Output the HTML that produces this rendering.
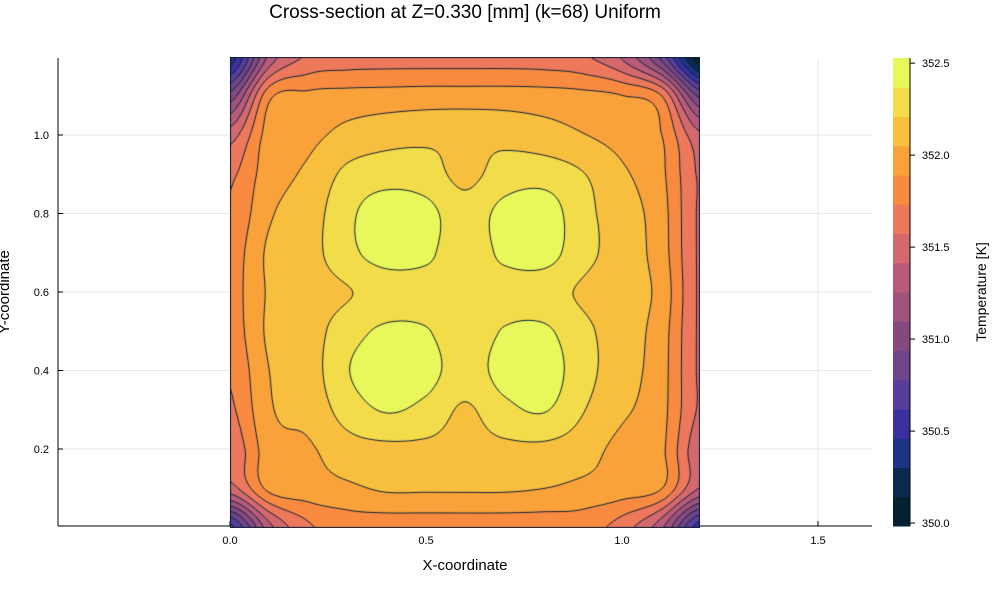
<!DOCTYPE html>
<html><head><meta charset="utf-8"><style>
html,body{margin:0;padding:0;background:#fff;}
#wrap{position:relative;width:1000px;height:600px;font-family:"Liberation Sans",sans-serif;}
</style></head><body>
<div id="wrap">
<svg id="svg" width="1000" height="600" style="position:absolute;left:0;top:0"></svg>
<canvas id="cv" width="470" height="471" style="position:absolute;left:230px;top:56.5px"></canvas>
</div>
<script>
// Data: temperature grid (T-350 K), rows y=1.2 down to 0.0, columns x=0..1.2 step 0.1
const gridX=[0,0.1,0.2,0.3,0.4,0.5,0.6,0.7,0.8,0.9,1.0,1.1,1.2];
const gridY=[1.2,1.1,1.0,0.9,0.8,0.7,0.6,0.5,0.4,0.3,0.2,0.1,0.0];
const tempRows=[
[0.35,1.30,1.60,1.65,1.66,1.66,1.66,1.66,1.65,1.60,1.40,0.90,0.00],
[1.00,1.85,1.93,1.95,1.96,1.97,1.97,1.97,1.96,1.94,1.90,1.75,0.90],
[1.50,1.96,2.01,2.10,2.15,2.17,2.17,2.16,2.12,2.06,1.99,1.90,1.45],
[1.70,1.98,2.08,2.25,2.30,2.28,2.17,2.28,2.30,2.22,2.08,1.93,1.55],
[1.75,2.03,2.13,2.33,2.46,2.42,2.28,2.42,2.46,2.26,2.13,1.96,1.55],
[1.80,2.08,2.15,2.32,2.44,2.40,2.28,2.40,2.44,2.26,2.14,1.97,1.55],
[1.82,2.07,2.13,2.20,2.27,2.30,2.30,2.30,2.27,2.19,2.12,2.00,1.55],
[1.80,2.08,2.14,2.30,2.40,2.38,2.28,2.38,2.40,2.25,2.13,1.97,1.55],
[1.75,2.05,2.13,2.36,2.46,2.43,2.29,2.43,2.46,2.27,2.12,1.96,1.55],
[1.70,2.03,2.10,2.28,2.38,2.32,2.19,2.32,2.38,2.22,2.08,1.95,1.55],
[1.60,1.98,2.03,2.14,2.17,2.17,2.15,2.17,2.17,2.12,2.00,1.93,1.45],
[1.50,1.93,1.98,2.02,2.07,2.07,2.07,2.07,2.05,2.01,1.97,1.90,1.40],
[0.55,1.35,1.70,1.80,1.80,1.80,1.80,1.80,1.80,1.80,1.65,1.30,0.50]];
const levelBase=349.984, levelStep=0.159, nLevels=16;
const bandColors=["#05202e","#0b2a50","#1b3484","#3b30a0","#583d9a","#6e4589","#85497f","#9e537b","#b95b78","#d4696d","#ee785b","#f98b41","#faa23a","#f8bf3f","#f3dc4a","#e8f75a"];
const xTicks=[0,0.5,1.0,1.5], xTickLabels=["0.0","0.5","1.0","1.5"];
const yTicks=[0.2,0.4,0.6,0.8,1.0], yTickLabels=["0.2","0.4","0.6","0.8","1.0"];
const cbTicks=[350.0,350.5,351.0,351.5,352.0,352.5], cbTickLabels=["350.0","350.5","351.0","351.5","352.0","352.5"];

const X0=230, XS=392, Y0=527.5, YS=392.5;
const sx=x=>X0+x*XS, sy=y=>Y0-y*YS;
const svg=document.getElementById('svg'), NS="http://www.w3.org/2000/svg";
function mk(tag,attrs,name,parent){const e=document.createElementNS(NS,tag);for(const k in attrs)e.setAttribute(k,attrs[k]);


(parent||svg).appendChild(e);return e;}
xTicks.forEach(t=>{mk('line',{x1:sx(t),x2:sx(t),y1:58,y2:526,stroke:'#e8e8e8','stroke-width':1},'x-grid-line');});
yTicks.forEach(t=>{mk('line',{x1:58,x2:872,y1:sy(t),y2:sy(t),stroke:'#e8e8e8','stroke-width':1},'y-grid-line');});
mk('line',{x1:58,x2:58,y1:58,y2:526,stroke:'#000','stroke-width':1},'y-axis-line');
mk('line',{x1:58,x2:872,y1:526,y2:526,stroke:'#000','stroke-width':1},'x-axis-line');
xTicks.forEach((t,i)=>{mk('line',{x1:sx(t),x2:sx(t),y1:526,y2:521,stroke:'#000'},'x-tick');
 const e=mk('text',{x:sx(t),y:544,'font-size':11,'text-anchor':'middle',fill:'#000'},'x-tick-label');e.textContent=xTickLabels[i];});
yTicks.forEach((t,i)=>{mk('line',{x1:58,x2:63,y1:sy(t),y2:sy(t),stroke:'#000'},'y-tick');
 const e=mk('text',{x:49,y:sy(t)+4,'font-size':11,'text-anchor':'end',fill:'#000'},'y-tick-label');e.textContent=yTickLabels[i];});
let e=mk('text',{x:465,y:18,'font-size':19,'text-anchor':'middle',fill:'#000'},'chart-title');e.textContent="Cross-section at Z=0.330 [mm] (k=68) Uniform";
e=mk('text',{x:465,y:570,'font-size':15,'text-anchor':'middle',fill:'#000'},'x-axis-title');e.textContent="X-coordinate";
e=mk('text',{x:0,y:0,'font-size':15,'text-anchor':'middle',fill:'#000',transform:'translate(9,292) rotate(-90)'},'y-axis-title');e.textContent="Y-coordinate";
const CB_T=58, CB_B=526, vmin=levelBase, vmax=levelBase+levelStep*nLevels;
const cy=v=>CB_B-(v-vmin)/(vmax-vmin)*(CB_B-CB_T);
bandColors.forEach((c,i)=>{const a=levelBase+levelStep*i,b=a+levelStep;
 mk('rect',{x:893,y:cy(b),width:17,height:cy(a)-cy(b)+0.5,fill:c},'colorbar-band');});
mk('line',{x1:910,x2:910,y1:CB_T,y2:CB_B,stroke:'#000'},'colorbar-axis');
cbTicks.forEach((t,i)=>{mk('line',{x1:910,x2:915,y1:cy(t),y2:cy(t),stroke:'#000'},'colorbar-tick');
 const e=mk('text',{x:922,y:cy(t)+4,'font-size':11,fill:'#000'},'colorbar-tick-label');e.textContent=cbTickLabels[i];});
e=mk('text',{x:0,y:0,'font-size':14,'text-anchor':'middle',fill:'#000',transform:'translate(986,292) rotate(-90)'},'colorbar-title');e.textContent="Temperature [K]";

const NR=gridY.length, NC=gridX.length;
function g(r,c){r=Math.max(0,Math.min(NR-1,r));c=Math.max(0,Math.min(NC-1,c));return tempRows[r][c];}
function cr(p0,p1,p2,p3,t){return p1+0.5*t*(p2-p0+t*(2*p0-5*p1+4*p2-p3+t*(3*(p1-p2)+p3-p0)));}
function field(x,y){
 const fc=(x-gridX[0])/(gridX[1]-gridX[0]), fr=(gridY[0]-y)/(gridY[0]-gridY[1]);
 let c=Math.floor(fc), r=Math.floor(fr); c=Math.min(c,NC-2); r=Math.min(r,NR-2);
 const tx=fc-c, ty=fr-r, rows=[];
 for(let k=-1;k<=2;k++)rows.push(cr(g(r+k,c-1),g(r+k,c),g(r+k,c+1),g(r+k,c+2),tx));
 return 350+cr(rows[0],rows[1],rows[2],rows[3],ty);
}
function hex(c){return [parseInt(c.slice(1,3),16),parseInt(c.slice(3,5),16),parseInt(c.slice(5,7),16)];}
const rgb=bandColors.map(hex);
const cv=document.getElementById('cv'),ctx=cv.getContext('2d');
const W=cv.width,H=cv.height,img=ctx.createImageData(W,H);
const xmax=gridX[NC-1], ymax=gridY[0];
for(let j=0;j<H;j++)for(let i=0;i<W;i++){
 const v=field((i+0.5)/W*xmax, ymax-(j+0.5)/H*ymax);
 let b=Math.floor((v-levelBase)/levelStep); b=Math.max(0,Math.min(nLevels-1,b));
 const p=(j*W+i)*4;img.data[p]=rgb[b][0];img.data[p+1]=rgb[b][1];img.data[p+2]=rgb[b][2];img.data[p+3]=255;}
ctx.putImageData(img,0,0);
const S=2, GW=Math.ceil(W/S)+1, GH=Math.ceil(H/S)+1, F=[];
for(let j=0;j<GH;j++){F.push([]);for(let i=0;i<GW;i++)F[j].push(field(Math.min(W,i*S)/W*xmax, ymax-Math.min(H,j*S)/H*ymax));}
ctx.strokeStyle='#0e2036';ctx.lineWidth=1;ctx.beginPath();
for(let L=1;L<nLevels;L++){const lv=levelBase+levelStep*L;
 for(let j=0;j<GH-1;j++)for(let i=0;i<GW-1;i++){
  const a=F[j][i],b=F[j][i+1],c=F[j+1][i+1],d=F[j+1][i];
  const pts=[];const x0=i*S,y0=j*S;
  const ed=(v1,v2,p1,p2)=>{if((v1<lv)!==(v2<lv)){const t=(lv-v1)/(v2-v1);pts.push([p1[0]+(p2[0]-p1[0])*t,p1[1]+(p2[1]-p1[1])*t]);}};
  ed(a,b,[x0,y0],[x0+S,y0]);ed(b,c,[x0+S,y0],[x0+S,y0+S]);ed(c,d,[x0+S,y0+S],[x0,y0+S]);ed(d,a,[x0,y0+S],[x0,y0]);
  for(let k=0;k+1<pts.length;k+=2){ctx.moveTo(pts[k][0],pts[k][1]);ctx.lineTo(pts[k+1][0],pts[k+1][1]);}
 }}
ctx.stroke();
ctx.strokeStyle='#0e2036';ctx.strokeRect(0.5,0.5,W-1,H-1);
</script>
</body></html>
